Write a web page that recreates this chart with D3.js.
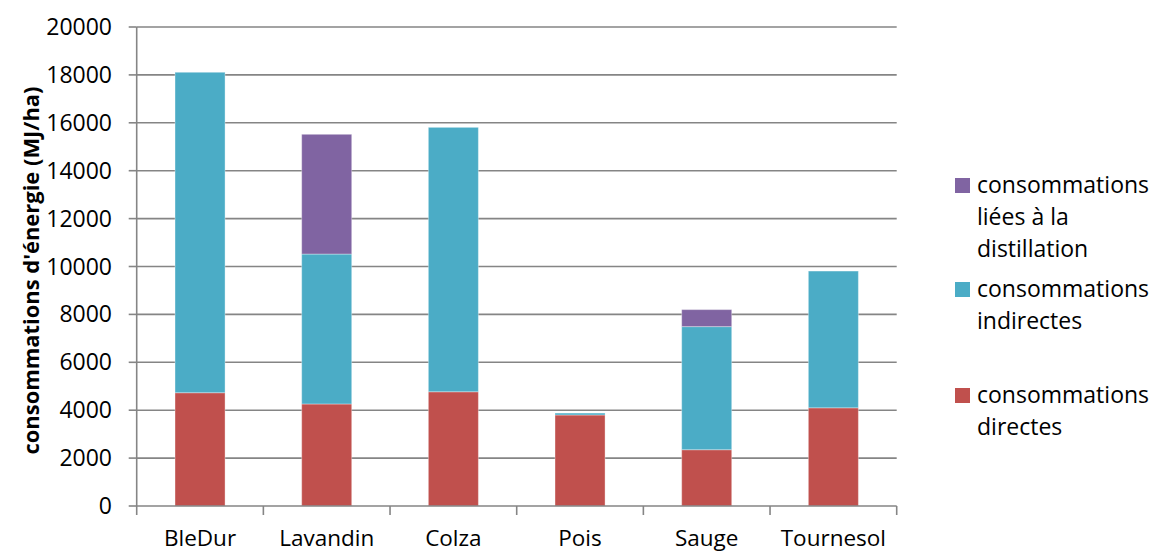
<!DOCTYPE html>
<html lang="fr">
<head>
<meta charset="UTF-8">
<title>consommations d'énergie</title>
<script src="https://cdn.jsdelivr.net/npm/d3@7"></script>
<style>
  body { margin: 0; background: #fff; }
  text { font-family: "Open Sans", sans-serif; fill: #000; }
</style>
</head>
<body>
<div id="output"></div>
<script>

var categories = ["BleDur", "Lavandin", "Colza", "Pois", "Sauge", "Tournesol"];
var directes     = [4730, 4260, 4770, 3800, 2350, 4100];
var indirectes   = [13380, 6260, 11040, 80, 5140, 5710];
var distillation = [0, 5000, 0, 0, 710, 0];
var yTicks = [0, 2000, 4000, 6000, 8000, 10000, 12000, 14000, 16000, 18000, 20000];

var series = [
    {key: "directes", label: ["consommations", "directes"], color: "#C0504D", values: directes},
    {key: "indirectes", label: ["consommations", "indirectes"], color: "#4BACC6", values: indirectes},
    {key: "distillation", label: ["consommations", "liées à la", "distillation"], color: "#8064A2", values: distillation}
];

var w = 1153, h = 554;
var plotLeft = 136.7, plotRight = 896.7, plotTop = 27, plotBottom = 506;
var grey = "#858585";

var svg = d3.select("#output")
    .append("svg")
    .attr("width", w)
    .attr("height", h);

var x = d3.scaleBand()
    .domain(categories)
    .range([plotLeft, plotRight])
    .paddingInner(0.605)
    .paddingOuter(0.3025);

var y = d3.scaleLinear()
    .domain([0, 20000])
    .range([plotBottom, plotTop]);

// table for the stack
var table = categories.map(function(c, i) {
    var row = {cat: c};
    series.forEach(function(s) { row[s.key] = s.values[i]; });
    return row;
});

var stack = d3.stack().keys(series.map(function(s) { return s.key; }));
var layers = stack(table);

// gridlines
svg.append("g").selectAll("line")
    .data(yTicks.slice(1))
    .enter().append("line")
    .attr("x1", plotLeft).attr("x2", plotRight)
    .attr("y1", function(d) { return y(d); })
    .attr("y2", function(d) { return y(d); })
    .attr("stroke", grey)
    .attr("stroke-width", 1.6);

// bars
svg.append("g").selectAll("g")
    .data(layers)
    .enter().append("g")
    .attr("fill", function(d, i) { return series[i].color; })
    .selectAll("rect")
    .data(function(d) { return d.filter(function(p) { return p[1] - p[0] > 0; }); })
    .enter().append("rect")
    .attr("x", function(d) { return x(d.data.cat); })
    .attr("width", x.bandwidth())
    .attr("y", function(d) { return y(d[1]); })
    .attr("height", function(d) { return y(d[0]) - y(d[1]); })
    .attr("stroke", "#ffffff")
    .attr("stroke-opacity", 0.35)
    .attr("stroke-width", 1);

// y axis
var yAxis = svg.append("g");
yAxis.append("line")
    .attr("x1", plotLeft).attr("x2", plotLeft)
    .attr("y1", plotTop).attr("y2", plotBottom)
    .attr("stroke", grey).attr("stroke-width", 1.6);
yAxis.selectAll(".tick")
    .data(yTicks)
    .enter().append("line")
    .attr("x1", plotLeft - 8).attr("x2", plotLeft)
    .attr("y1", function(d) { return y(d); })
    .attr("y2", function(d) { return y(d); })
    .attr("stroke", grey).attr("stroke-width", 1.6);
yAxis.selectAll("text")
    .data(yTicks)
    .enter().append("text")
    .attr("x", 112)
    .attr("y", function(d) { return y(d) + 8; })
    .attr("text-anchor", "end")
    .style("font-size", "23px")
    .text(function(d) { return d; });

// x axis
var step = x.step();
var xAxis = svg.append("g");
xAxis.append("line")
    .attr("x1", plotLeft).attr("x2", plotRight)
    .attr("y1", plotBottom).attr("y2", plotBottom)
    .attr("stroke", grey).attr("stroke-width", 1.6);
xAxis.selectAll(".tick")
    .data(d3.range(categories.length + 1))
    .enter().append("line")
    .attr("x1", function(i) { return plotLeft + i * step; })
    .attr("x2", function(i) { return plotLeft + i * step; })
    .attr("y1", plotBottom).attr("y2", plotBottom + 9)
    .attr("stroke", grey).attr("stroke-width", 1.6);
xAxis.selectAll("text")
    .data(categories)
    .enter().append("text")
    .attr("x", function(d) { return x(d) + x.bandwidth() / 2; })
    .attr("y", 546)
    .attr("text-anchor", "middle")
    .style("font-size", "22.5px")
    .text(function(d) { return d; });

// y title
svg.append("text")
    .attr("transform", "translate(39," + ((plotTop + plotBottom) / 2 + 4) + ") rotate(-90)")
    .attr("text-anchor", "middle")
    .attr("textLength", 368)
    .attr("lengthAdjust", "spacingAndGlyphs")
    .style("font-size", "21px")
    .style("font-weight", "bold")
    .text("consommations d'énergie (MJ/ha)");

// legend (top to bottom: distillation, indirectes, directes)
var legendY = [193, 297, 403];
var legend = svg.append("g").selectAll("g")
    .data(series.slice().reverse())
    .enter().append("g")
    .attr("transform", function(d, i) { return "translate(955," + legendY[i] + ")"; });

legend.append("rect")
    .attr("x", 0).attr("y", -15)
    .attr("width", 15).attr("height", 15)
    .attr("fill", function(d) { return d.color; });

legend.append("text")
    .style("font-size", "23px")
    .selectAll("tspan")
    .data(function(d) { return d.label; })
    .enter().append("tspan")
    .attr("x", 22)
    .attr("y", function(d, i) { return i * 31.8; })
    .text(function(d) { return d; });

</script>
</body>
</html>
